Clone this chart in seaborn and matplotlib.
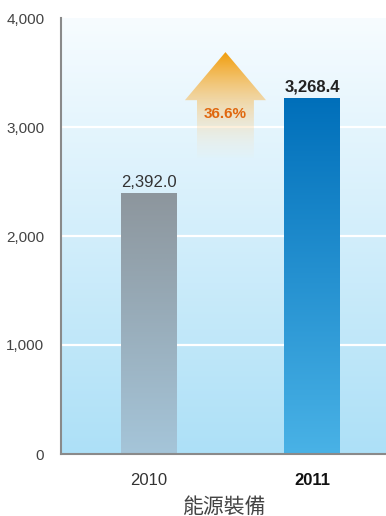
import numpy as np
import pandas as pd
import matplotlib
matplotlib.use("Agg")
import matplotlib.pyplot as plt
from matplotlib.patches import Polygon
from matplotlib.colors import to_rgb
from matplotlib.ticker import FuncFormatter
import seaborn as sns

# Data
years = ["2010", "2011"]
values = [2392.0, 3268.4]
value_labels = ["2,392.0", "3,268.4"]
growth_label = "36.6%"
y_ticks = [0, 1000, 2000, 3000, 4000]
x_title = "能源裝備"

sns.set_theme(style="white")
plt.rcParams["font.family"] = ["Liberation Sans", "Noto Sans CJK TC", "DejaVu Sans"]

fig = plt.figure(figsize=(3.86, 5.16), dpi=100)
ax = fig.add_axes([61 / 386, 62 / 516, 1 - 61 / 386, (454 - 18) / 516])

df = pd.DataFrame({"year": years, "value": values})
sns.barplot(data=df, x="year", y="value", ax=ax, width=0.342, color="white",
            edgecolor="none", saturation=1)

ax.set_xlim(-0.538, 1.45)
ax.set_ylim(0, 4000)


def vgrad(top, bottom, n=256, alpha_top=1.0, alpha_bottom=1.0):
    t = np.linspace(0, 1, n)[:, None]
    c0, c1 = np.array(to_rgb(top)), np.array(to_rgb(bottom))
    rgb = c0 * (1 - t) + c1 * t
    a = alpha_top * (1 - t) + alpha_bottom * t
    return np.concatenate([rgb, a], axis=1)[:, None, :]


# background gradient
ax.imshow(vgrad("#f7fcff", "#ade0f7"), extent=[0, 1, 0, 1], transform=ax.transAxes,
          aspect="auto", zorder=0, interpolation="bicubic")

for y in y_ticks[1:-1]:
    ax.axhline(y, color="white", lw=1.6, zorder=1)

# gradient fills for the bars
bar_colors = [("#8d969d", "#a5c5d9"), ("#006fba", "#49b2e6")]
for patch, (top, bottom) in zip(ax.patches, bar_colors):
    x0, y0 = patch.get_x(), patch.get_y()
    w, h = patch.get_width(), patch.get_height()
    patch.set_facecolor("none")
    patch.set_zorder(2)
    im = ax.imshow(vgrad(top, bottom), extent=[x0, x0 + w, 0, h], aspect="auto",
                   zorder=2, interpolation="bicubic")
    im.set_clip_path(patch)

# value labels
for i, (v, lab) in enumerate(zip(values, value_labels)):
    ax.text(i, v + 30, lab, ha="center", va="bottom", fontsize=12,
            color="#333333" if i == 0 else "#222222",
            fontweight="normal" if i == 0 else "bold", zorder=5)

# growth arrow
ax_l, ax_r, head_base, tip, bot = 0.22, 0.716, 3246, 3687, 2720
sh_l, sh_r = 0.294, 0.642
arrow = Polygon([(sh_l, bot), (sh_l, head_base), (ax_l, head_base), ((ax_l + ax_r) / 2, tip),
                 (ax_r, head_base), (sh_r, head_base), (sh_r, bot)],
                closed=True, facecolor="none", edgecolor="none", zorder=3)
ax.add_patch(arrow)
aim = ax.imshow(vgrad("#f29d0a", "#fbe8cf", alpha_top=1.0, alpha_bottom=0.05),
                extent=[ax_l, ax_r, bot, tip], aspect="auto", zorder=3,
                interpolation="bicubic")
aim.set_clip_path(arrow)
ax.text((ax_l + ax_r) / 2, 3120, growth_label, ha="center", va="center", fontsize=11,
        fontweight="bold", color="#e0680f", zorder=5)

# axes styling
ax.set_yticks(y_ticks)
ax.yaxis.set_major_formatter(FuncFormatter(lambda v, p: f"{int(v):,}"))
ax.tick_params(axis="y", length=0, pad=12, labelsize=11, labelcolor="#444444")
ax.tick_params(axis="x", length=0, pad=14, labelsize=12, labelcolor="#333333")
for lab in ax.get_xticklabels():
    if lab.get_text() == "2011":
        lab.set_fontweight("bold")
        lab.set_color("#111111")
ax.set_xlabel(x_title, fontsize=15, color="#444444", labelpad=6)
ax.set_ylabel("")
for side in ["top", "right"]:
    ax.spines[side].set_visible(False)
for side in ["left", "bottom"]:
    ax.spines[side].set_color("#8a8a8a")
    ax.spines[side].set_linewidth(1.5)
    ax.spines[side].set_zorder(6)

fig.savefig("out.png", dpi=100)
